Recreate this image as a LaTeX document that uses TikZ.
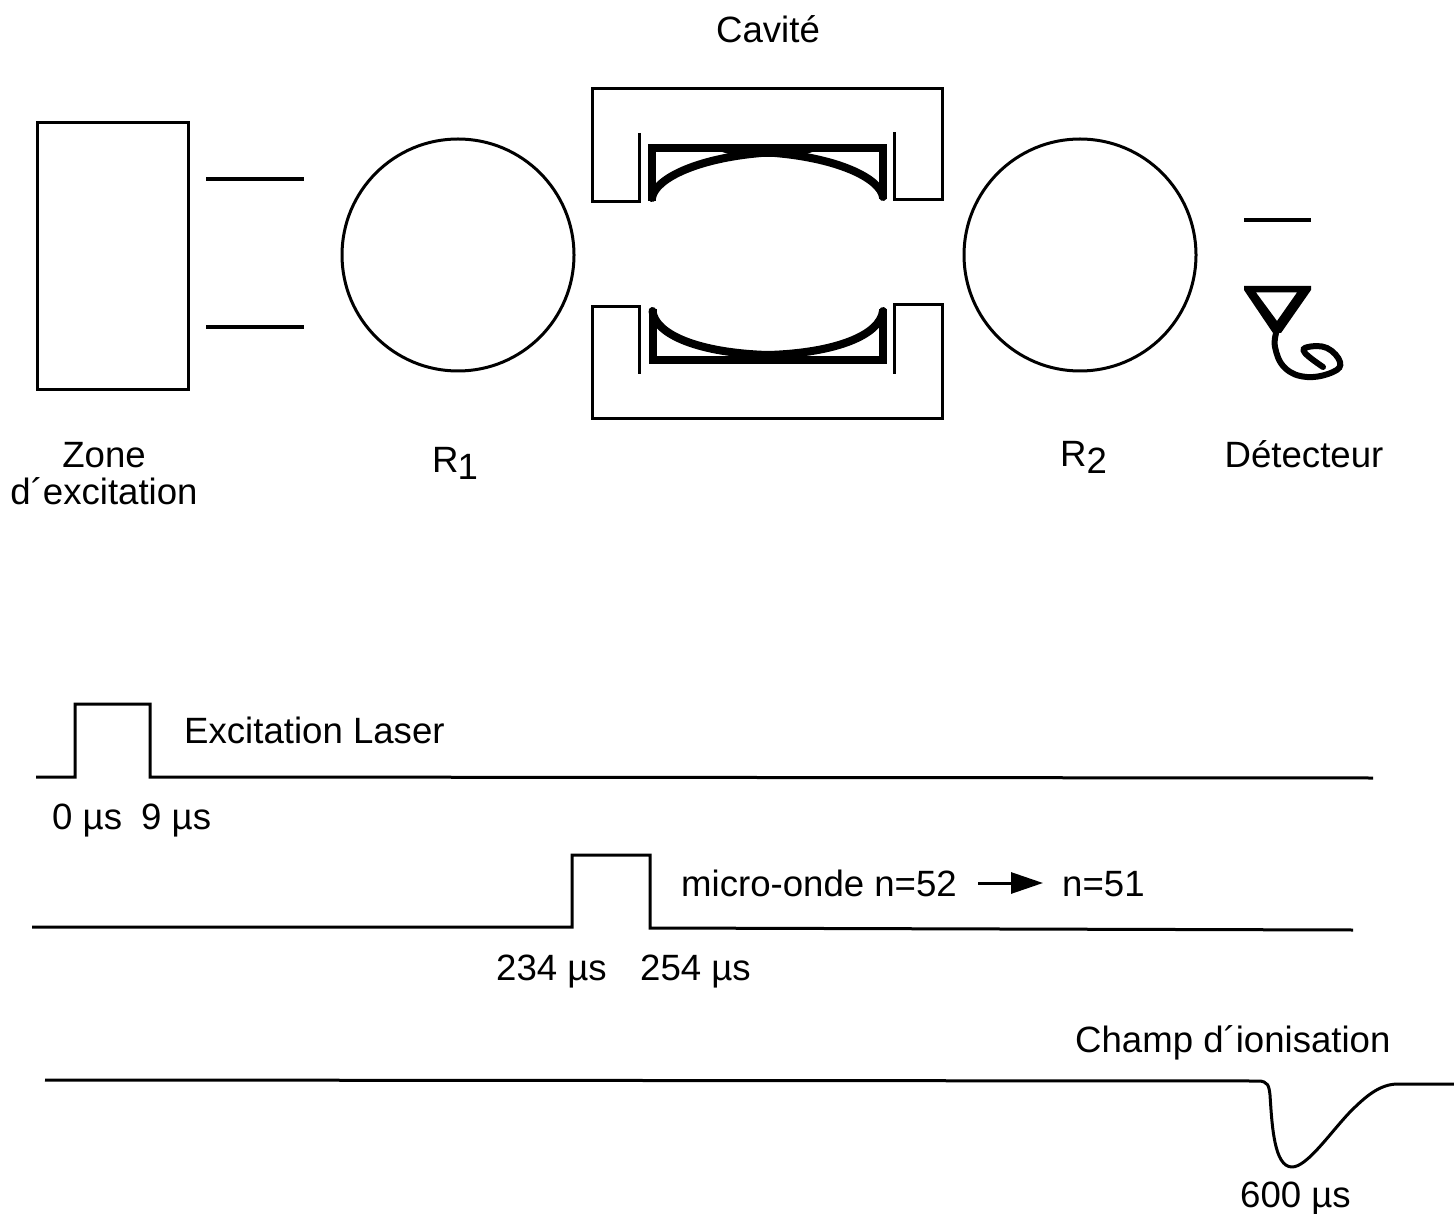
\documentclass[tikz,border=0pt]{standalone}
\usepackage{fontspec}
\setmainfont{Liberation Sans}
\usetikzlibrary{arrows.meta}
\newcommand{\subdig}[1]{\raisebox{-7pt}{#1}}
\tikzset{
  x=1pt,y=-1pt,
  thin line/.style={line width=3pt,line join=miter},
  bar/.style={line width=4.5pt},
  mirror/.style={line width=8pt,line join=miter},
  label/.style={inner sep=0pt,anchor=base,font=\fontsize{36.6}{36.6}\selectfont},
  labelw/.style={label,anchor=base west},
}
\begin{document}
\begin{tikzpicture}
\useasboundingbox (0,0) rectangle (1454,1214);
% excitation zone and slits
\draw[thin line] (37,123) rectangle (188,390);
\draw[bar] (206,179) -- (304,179);
\draw[bar] (206,327) -- (304,327);
% Ramsey zones
\draw[thin line] (458,255) circle (116);
\draw[thin line] (1080,255) circle (116);
% cavity housing
\draw[thin line] (639,133) -- (639,202) -- (592,202) -- (592,89) -- (942,89) -- (942,200) -- (894,200) -- (894,132);
\draw[thin line] (639,374) -- (639,307) -- (592,307) -- (592,419) -- (942,419) -- (942,305) -- (894,305) -- (894,374);
% mirrors
\draw[mirror] (652,201) -- (652,148.5) -- (883,148.5) -- (883,199);
\draw[mirror,line cap=round] (652,198) .. controls (655,178) and (700,157) .. (768,152.5) .. controls (836,157) and (880,178) .. (883,197);
\fill (716,150) -- (738,157) -- (798,157) -- (818,150) -- cycle;
\draw[mirror] (652.5,309) -- (652.5,360.5) -- (883,360.5) -- (883,309);
\draw[mirror,line cap=round] (652.5,311) .. controls (655,335) and (700,353) .. (768,355) .. controls (836,353) and (880,335) .. (883,311);
\fill (723,359) -- (745,352.5) -- (792,352.5) -- (813,359) -- cycle;
% detector
\draw[bar] (1244,220) -- (1311,220);
\fill[even odd rule] (1244,286) -- (1311,286) -- (1311,290) -- (1281,333) -- (1273,333) -- (1244,290) -- cycle (1256,292.5) -- (1297,292.5) -- (1277,321) -- cycle;
\draw[line width=6pt,line cap=round] plot[smooth,tension=0.7] coordinates {(1277,330) (1275,347) (1285,368) (1307,377) (1333,372) (1340,362) (1327,348) (1308,347) (1305,353) (1323,367)};
% labels, top
\node[label] (cav) at (768,43) {Cavité};
\node[label] (zone) at (104,467) {Zone};
\node[label] (zexc) at (104,504) {d´excitation};
\node[labelw] (r1) at (432,472) {R\kern-1pt\subdig{1}};
\node[labelw] (r2) at (1060,466) {R\subdig{2}};
\node[label] (det) at (1304,467) {Détecteur};
% pulses
\draw[thin line] (36,777) -- (75,777) -- (75,704) -- (150,704) -- (150,777) -- (1373,778);
\draw[thin line] (32,927) -- (572,927) -- (572,855) -- (650,855) -- (650,928) -- (1353,930);
\draw[thin line,line join=round] (45,1080) -- (1258,1081) .. controls (1268,1081) and (1269,1086) .. (1270,1095) .. controls (1272,1125) and (1274,1167) .. (1292,1167) .. controls (1307,1167) and (1330,1133) .. (1350,1112) .. controls (1366,1096) and (1380,1084) .. (1398,1084) -- (1454,1084);
% labels, pulses
\node[labelw] (las) at (184,743) {Excitation Laser};
\node[labelw] (t0) at (52,829) {0 µs};
\node[labelw] (t9) at (141,829) {9 µs};
\node[labelw] (mo) at (681,896) {micro-onde n=52};
\node[labelw] (n51) at (1062,896) {n=51};
\coordinate (as) at (978,883);
\coordinate (ae) at (1043,883);
\draw[line width=3pt,-{Triangle[length=32pt,width=21pt]}] (as) -- (ae);
\node[labelw] (t234) at (496,980) {234 µs};
\node[labelw] (t254) at (640,980) {254 µs};
\node[labelw] (champ) at (1075,1052) {Champ d´ionisation};
\node[labelw] (t600) at (1240,1207) {600 µs};
\end{tikzpicture}
\end{document}
